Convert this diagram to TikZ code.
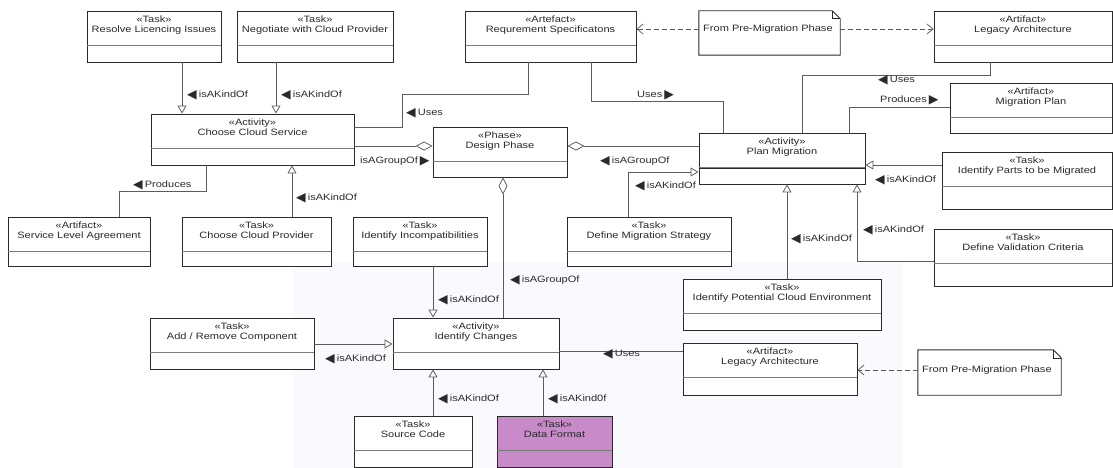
\documentclass[tikz,border=0pt]{standalone}
\usepackage{fontspec}
\setmainfont{Liberation Sans}[FakeStretch=1.2]
\newfontfamily\trifont{DejaVu Sans}
\usetikzlibrary{arrows.meta, fit}
\definecolor{ink}{HTML}{2A2A2A}
\definecolor{wire}{HTML}{5C5C5C}
\definecolor{rule-grey}{HTML}{7A7A7A}
\definecolor{data-pink}{HTML}{C98AC9}
\definecolor{scan-tint}{HTML}{FAF9FD}

% box with stereotype, name and an empty lower compartment
\newcommand{\umlbox}[8][]{%
  \node[frame, #1, fit={(#3,#4) (#5,#6)}] (#2) {};
  \draw[divider] ([yshift=-35pt]#2.north west) -- ([yshift=-35pt]#2.north east);
  \node[boxtext, anchor=north] (#2-txt) at ([yshift=-5pt]#2.north) {«#7»\\#8};
}
\newcommand{\lefttri}{\raisebox{-0.6pt}{\trifont\fontsize{12.5}{12.5}\selectfont ◀}\hspace{2pt}}
\newcommand{\righttri}{\hspace{2pt}\raisebox{-0.6pt}{\trifont\fontsize{12.5}{12.5}\selectfont ▶}}

\begin{document}
\begin{tikzpicture}[x=1pt, y=-1pt,
  every node/.style={font=\fontsize{9.2}{10.3}\selectfont, text=ink, inner sep=0pt},
  frame/.style={draw=ink, line width=0.9pt, fill=white, inner sep=0pt},
  divider/.style={draw=rule-grey, line width=0.7pt},
  boxtext/.style={align=center},
  tag/.style={anchor=west},
  link/.style={draw=wire, line width=0.75pt},
  kind/.style={link, -{Triangle[open, length=8pt, width=9pt]}},
  group/.style={link, -{Diamond[open, length=17pt, width=9pt]}},
  trace/.style={link, dash pattern=on 5pt off 3pt, -{Straight Barb[length=6pt, width=10pt]}}]
  \useasboundingbox (0,0) rectangle (1113,468);
  \fill[scan-tint] (293,262) rectangle (903,468);

  % boxes
  \umlbox{resolve}{87}{11}{221}{62}{Task}{Resolve Licencing Issues}
  \umlbox{negotiate}{237}{11}{393}{62}{Task}{Negotiate with Cloud Provider}
  \umlbox{req}{465}{11}{636}{62}{Artefact}{Requrement Specificatons}
  \umlbox{legacy}{934}{11}{1112}{62}{Artifact}{Legacy Architecture}
  \umlbox{mplan}{950}{83}{1112}{133}{Artifact}{Migration Plan}
  \umlbox{ccs}{151}{114}{354}{165}{Activity}{Choose Cloud Service}
  \umlbox{design}{433}{127}{567}{177}{Phase}{Design Phase}
  \umlbox{plan}{699}{133}{865}{184}{Activity}{Plan Migration}
  \draw[ink, line width=1.1pt] ([yshift=-36pt]plan.north west) -- ([yshift=-36pt]plan.north east);
  \umlbox{parts}{942}{152}{1112}{209}{Task}{Identify Parts to be Migrated}
  \umlbox{sla}{8}{217}{150}{266}{Artifact}{Service Level Agreement}
  \umlbox{provider}{182}{217}{331}{266}{Task}{Choose Cloud Provider}
  \umlbox{incompat}{353}{217}{487}{266}{Task}{Identify Incompatibilities}
  \umlbox{strategy}{567}{217}{731}{266}{Task}{Define Migration Strategy}
  \umlbox{validation}{934}{229}{1112}{286}{Task}{Define Validation Criteria}
  \umlbox{potential}{683}{279}{881}{330}{Task}{Identify Potential Cloud Environment}
  \umlbox{changes}{393}{318}{559}{369}{Activity}{Identify Changes}
  \umlbox{addremove}{150}{318}{314}{369}{Task}{Add / Remove Component}
  \umlbox{legacy2}{683}{343}{857}{395}{Artifact}{Legacy Architecture}
  \umlbox{source}{354}{416}{472}{467}{Task}{Source Code}
  \umlbox[fill=data-pink]{dataformat}{497}{416}{612}{467}{Task}{Data Format}

  % notes
  \node[fit={(699,11) (840,55)}] (note1) {};
  \draw[frame, fill=none] (note1.north west) -- ([xshift=-8pt]note1.north east)
    -- ([yshift=-8pt]note1.north east) -- (note1.south east) -- (note1.south west) -- cycle;
  \draw[frame, fill=none, line width=0.6pt] ([xshift=-8pt]note1.north east) |- ([yshift=-8pt]note1.north east);
  \node[tag] (note1-txt) at (703,29) {From Pre-Migration Phase};
  \node[fit={(918,350) (1061,395)}] (note2) {};
  \draw[frame, fill=none] (note2.north west) -- ([xshift=-8pt]note2.north east)
    -- ([yshift=-8pt]note2.north east) -- (note2.south east) -- (note2.south west) -- cycle;
  \draw[frame, fill=none, line width=0.6pt] ([xshift=-8pt]note2.north east) |- ([yshift=-8pt]note2.north east);
  \node[tag] (note2-txt) at (922,370) {From Pre-Migration Phase};

  % connectors
  \draw[kind] (resolve.south -| 182,0) -- (ccs.north -| 182,0);
  \draw[kind] (negotiate.south -| 276,0) -- (ccs.north -| 276,0);
  \draw[link] (req.south -| 528,0) -- (528,94) -| (402,127) -- (ccs.east |- 0,127);
  \draw[link] (req.south -| 591,0) -- (591,101) -| (plan.north -| 723,0);
  \draw[link] (legacy.south -| 990,0) -- (990,75) -| (plan.north -| 802,0);
  \draw[link] (mplan.west |- 0,107) -| (plan.north -| 849,0);
  \draw[group] (ccs.east |- 0,146) -- (design.west |- 0,146);
  \draw[group] (plan.west |- 0,146) -- (design.east |- 0,146);
  \draw[kind] (strategy.north -| 628,0) |- (plan.west |- 0,172);
  \draw[kind] (potential.north -| 787,0) -- (plan.south -| 787,0);
  \draw[kind] (parts.west |- 0,165) -- (plan.east |- 0,165);
  \draw[kind] (validation.west |- 0,261) -| (plan.south -| 857,0);
  \draw[link] (ccs.south -| 206,0) -- (206,191) -| (sla.north -| 119,0);
  \draw[kind] (provider.north -| 292,0) -- (ccs.south -| 292,0);
  \draw[kind] (incompat.south -| 433,0) -- (changes.north -| 433,0);
  \draw[group] (changes.north -| 503,0) -- (design.south -| 503,0);
  \draw[kind] (addremove.east |- 0,344) -- (changes.west |- 0,344);
  \draw[kind] (source.north -| 433,0) -- (changes.south -| 433,0);
  \draw[kind] (dataformat.north -| 543,0) -- (changes.south -| 543,0);
  \draw[link] (legacy2.west |- 0,351) -- (changes.east |- 0,351);
  \draw[trace] (note1.west |- 0,29) -- (req.east |- 0,29);
  \draw[trace] (note1.east |- 0,29) -- (legacy.west |- 0,29);
  \draw[trace] (note2.west |- 0,370) -- (legacy2.east |- 0,370);

  % connector labels
  \node[tag] (l-resolve) at (187,95) {\lefttri isAKindOf};
  \node[tag] (l-negotiate) at (281,95) {\lefttri isAKindOf};
  \node[tag] (l-req-ccs) at (406,113) {\lefttri Uses};
  \node[tag] (l-req-plan) at (637,95) {Uses\righttri};
  \node[tag] (l-legacy) at (878,80) {\lefttri Uses};
  \node[tag] (l-mplan) at (880,100) {Produces\righttri};
  \node[tag] (l-ccs-design) at (360,161) {isAGroupOf\righttri};
  \node[tag] (l-plan-design) at (600,161) {\lefttri isAGroupOf};
  \node[tag] (l-strategy) at (635,186) {\lefttri isAKindOf};
  \node[tag] (l-parts) at (875,180) {\lefttri isAKindOf};
  \node[tag] (l-validation) at (863,230) {\lefttri isAKindOf};
  \node[tag] (l-potential) at (791,239) {\lefttri isAKindOf};
  \node[tag] (l-sla) at (133,185) {\lefttri Produces};
  \node[tag] (l-provider) at (296,198) {\lefttri isAKindOf};
  \node[tag] (l-incompat) at (438,300) {\lefttri isAKindOf};
  \node[tag] (l-changes-design) at (510,280) {\lefttri isAGroupOf};
  \node[tag] (l-addremove) at (325,359) {\lefttri isAKindOf};
  \node[tag] (l-source) at (438,399) {\lefttri isAKindOf};
  \node[tag] (l-dataformat) at (548,399) {\lefttri isAKind0f};
  \node[tag] (l-legacy2) at (603,354) {\lefttri Uses};
\end{tikzpicture}
\end{document}
